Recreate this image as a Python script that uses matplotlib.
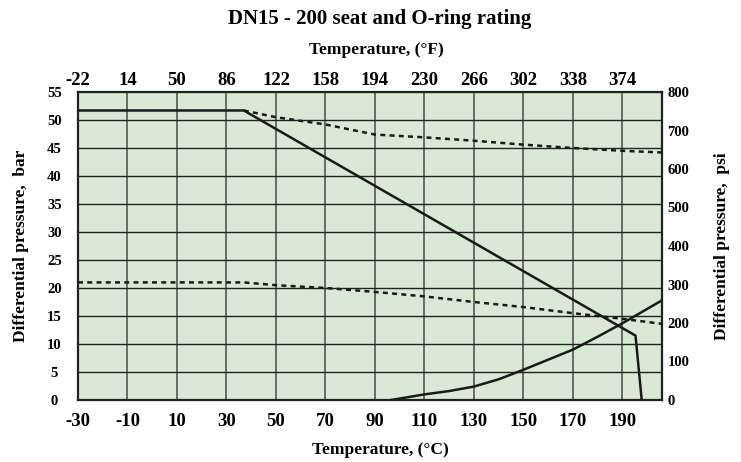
import numpy as np
import matplotlib.pyplot as plt

plt.rcParams['font.family'] = ['Liberation Serif', 'DejaVu Serif']
plt.rcParams['font.weight'] = 'bold'
plt.rcParams['axes.unicode_minus'] = False

# seat rating (solid), bar vs degC
seat_t = [-30, 37, 195.3, 197.8]
seat_p = [51.7, 51.7, 11.5, 0]

# upper O-ring rating (dotted)
oring_hi_t = [37, 50, 70, 90, 110, 130, 150, 170, 190, 206]
oring_hi_p = [51.7, 50.5, 49.2, 47.4, 46.9, 46.3, 45.6, 45.0, 44.5, 44.2]

# lower O-ring rating (dotted)
oring_lo_t = [-30, 37, 50, 70, 90, 110, 130, 150, 170, 190, 206]
oring_lo_p = [21.0, 21.0, 20.5, 20.0, 19.3, 18.5, 17.5, 16.6, 15.5, 14.5, 13.6]

# rising curve (solid)
rise_t = [96.5, 110, 120, 130, 140, 150, 160, 170, 180, 190, 206]
rise_p = [0, 1.0, 1.6, 2.4, 3.7, 5.4, 7.2, 9.0, 11.3, 13.7, 17.8]

c_ticks = [-30, -10, 10, 30, 50, 70, 90, 110, 130, 150, 170, 190]
f_ticks = [-22, 14, 50, 86, 122, 158, 194, 230, 266, 302, 338, 374]
bar_ticks = list(range(0, 56, 5))
psi_ticks = list(range(0, 801, 100))

W, H = 741, 462
fig = plt.figure(figsize=(W / 100, H / 100), dpi=100)
ax = fig.add_axes([78 / W, 1 - 400 / H, 584 / W, 308 / H])
ax.set_facecolor('#d9e9d6')

ax.plot(seat_t, seat_p, color='#1a1a1a', lw=1.8, zorder=3)
ax.plot(rise_t, rise_p, color='#1a1a1a', lw=1.8, zorder=3)
ax.plot(oring_hi_t, oring_hi_p, color='#1a1a1a', lw=1.8, ls=(0, (2, 1.7)), zorder=3)
ax.plot(oring_lo_t, oring_lo_p, color='#1a1a1a', lw=1.8, ls=(0, (2, 1.7)), zorder=3)

ax.set_xlim(-30, 206)
ax.set_ylim(0, 55)
ax.set_xticks(c_ticks)
ax.set_yticks(bar_ticks)
for x in c_ticks[1:]:
    ax.axvline(x, color='#4a4a4a', lw=1.1, zorder=1)
for y in bar_ticks[1:-1]:
    ax.axhline(y, color='#222222', lw=1.0, zorder=1)
ax.tick_params(axis='x', length=0, pad=9, labelsize=13.5)
ax.tick_params(axis='y', length=0, pad=17, labelsize=10.5)
for lbl in ax.get_yticklabels():
    lbl.set_horizontalalignment('center')
for s in ax.spines.values():
    s.set_linewidth(1.6)
    s.set_color('#222222')

top = ax.secondary_xaxis('top', functions=(lambda c: c * 9 / 5 + 32, lambda f: (f - 32) * 5 / 9))
top.set_xticks(f_ticks)
top.tick_params(length=0, pad=2, labelsize=13.5)

ax2 = ax.twinx()
ax2.set_ylim(0, 800)
ax2.set_yticks(psi_ticks)
ax2.tick_params(length=0, pad=4, labelsize=10.5)
for s in ax2.spines.values():
    s.set_visible(False)

fig.text(380 / W, 1 - 19 / H, 'DN15 - 200 seat and O-ring rating', ha='center', va='center',
         fontsize=15, fontweight='bold')
fig.text(376 / W, 1 - 50 / H, 'Temperature, (°F)', ha='center', va='center',
         fontsize=12.5, fontweight='bold')
fig.text(380 / W, 1 - 450 / H, 'Temperature, (°C)', ha='center', va='center',
         fontsize=12.5, fontweight='bold')
fig.text(21 / W, 1 - 246 / H, 'Differential pressure,  bar', ha='center', va='center',
         rotation=90, fontsize=12.5, fontweight='bold')
fig.text(722 / W, 1 - 246 / H, 'Differential pressure,  psi', ha='center', va='center',
         rotation=90, fontsize=12.5, fontweight='bold')

fig.savefig('out.png', dpi=100)
